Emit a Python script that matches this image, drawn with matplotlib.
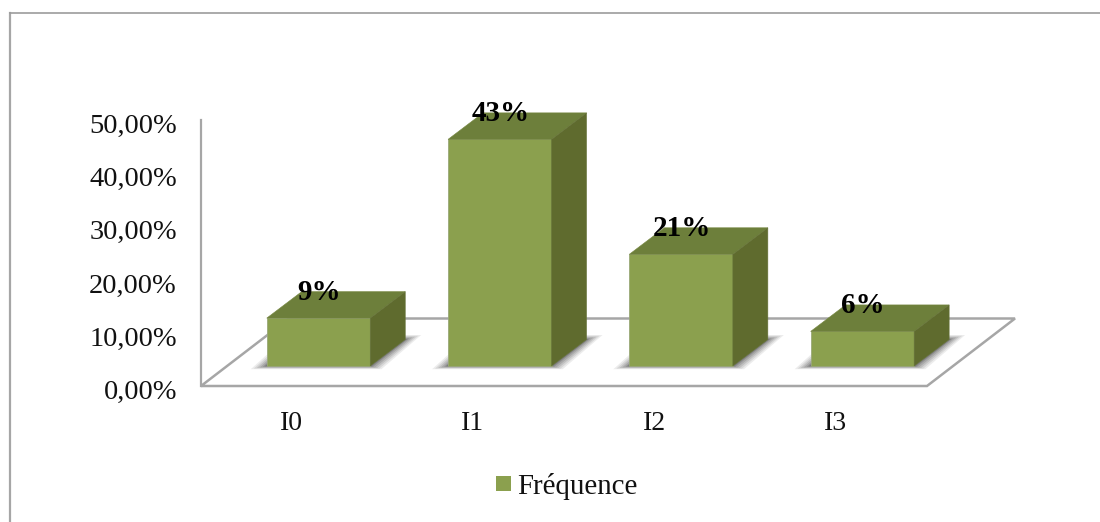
import matplotlib
matplotlib.use('Agg')
import matplotlib.pyplot as plt
from matplotlib.patches import Polygon, Rectangle

# values
categories = ['I0', 'I1', 'I2', 'I3']
frequence = [9.0, 42.6, 21.0, 6.5]
bar_labels = ['9%', '43%', '21%', '6%']
y_ticks = [0, 10, 20, 30, 40, 50]
y_tick_labels = ['0,00%', '10,00%', '20,00%', '30,00%', '40,00%', '50,00%']

plt.rcParams['font.family'] = ['Liberation Serif', 'DejaVu Serif']

W, H = 1100, 522
X_STEP = 181.3   # px between categories
Y_STEP = 5.32    # px per percent
X0_PX = 318.5
Y0_PX = 386

fig = plt.figure(figsize=(11, 5.22), dpi=100)
ax = fig.add_axes([0, 0, 1, 1])
ax.set_xlim(-X0_PX / X_STEP, (W - X0_PX) / X_STEP)
ax.set_ylim((Y0_PX - H) / Y_STEP, Y0_PX / Y_STEP)
ax.axis('off')

# helpers for sizes given in pixels
def px(v):
    return v / X_STEP

def py(v):
    return v / Y_STEP

grey = '#a6a6a6'
front = '#8ba04e'
top = '#6d7f3b'
side = '#5f6b2e'

# outer frame of the chart: only left and top are visible
frame_l, frame_r = px(10) - X0_PX / X_STEP, px(1100) - X0_PX / X_STEP
frame_t = (Y0_PX - 13.5) / Y_STEP
frame_b = (Y0_PX - H) / Y_STEP
ax.plot([frame_l, frame_l], [frame_b, frame_t], color=grey, lw=1.6, solid_capstyle='projecting')
ax.plot([frame_l, frame_r], [frame_t, frame_t], color='#9c9c9c', lw=1.2)

# wall and floor
wall_x = px(201) - X0_PX / X_STEP
floor_dx = px(88)
floor_dy = py(67.5)
floor_w = px(726)
ax.plot([wall_x, wall_x], [0, y_ticks[-1]], color=grey, lw=1.6)
ax.add_patch(Polygon([(wall_x, 0), (wall_x + floor_w, 0),
                      (wall_x + floor_w + floor_dx, floor_dy),
                      (wall_x + floor_dx, floor_dy)],
                     closed=True, fc='white', ec=grey, lw=1.8, joinstyle='miter'))

# bars as front, top and side faces
half = px(103.5) / 2
dx = px(35)
dy = py(26.5)
base = py(20)
for i, v in enumerate(frequence):
    l, r = i - half, i + half
    # soft shadow on the floor, stacked from wide and pale to narrow and dark
    for grow, alpha in [(16, 0.10), (13, 0.13), (10, 0.16), (7, 0.20), (4, 0.25), (2, 0.30)]:
        g = px(grow)
        low = base - py(grow * 0.2)
        high = base + dy + py(grow * 0.28)
        ax.add_patch(Polygon([(l - g, low), (r + px(grow * 0.7), low), (r + dx + g, high),
                              (r + dx - px(10), high), (l, base + py(grow * 0.7))],
                             closed=True, fc='#4d4d4d', ec='none', alpha=alpha, zorder=2))
    ax.add_patch(Rectangle((l, base), r - l, v, fc=front, ec='#9aa878', lw=0.6, zorder=3))
    ax.add_patch(Polygon([(l, base + v), (r, base + v), (r + dx, base + v + dy), (l + dx, base + v + dy)],
                         closed=True, fc=top, ec='#75863f', lw=0.4, zorder=3))
    ax.add_patch(Polygon([(r, base), (r + dx, base + dy), (r + dx, base + v + dy), (r, base + v)],
                         closed=True, fc=side, ec='#66733a', lw=0.4, zorder=3))
    # value label sits on the back edge of the top face
    ax.text(i + px(0.5), base + v + dy - py(1), bar_labels[i], ha='center', va='center',
            fontsize=21, fontweight='bold', color='black', zorder=5)
    # category label
    ax.text(i - px(27), (Y0_PX - 430) / Y_STEP, categories[i], ha='center', va='baseline',
            fontsize=20, color='#111111')

# y tick labels
for t, lab in zip(y_ticks, y_tick_labels):
    ax.text(px(177) - X0_PX / X_STEP, t - py(13), lab, ha='right', va='baseline',
            fontsize=20.5, color='#111111')

# legend
ax.add_patch(Rectangle((px(496) - X0_PX / X_STEP, (Y0_PX - 491) / Y_STEP),
                       px(15), py(15), fc=front, ec='none'))
ax.text(px(517) - X0_PX / X_STEP, (Y0_PX - 494) / Y_STEP, 'Fréquence',
        ha='left', va='baseline', fontsize=20.8, color='#111111')

fig.savefig('out.png', dpi=100)
